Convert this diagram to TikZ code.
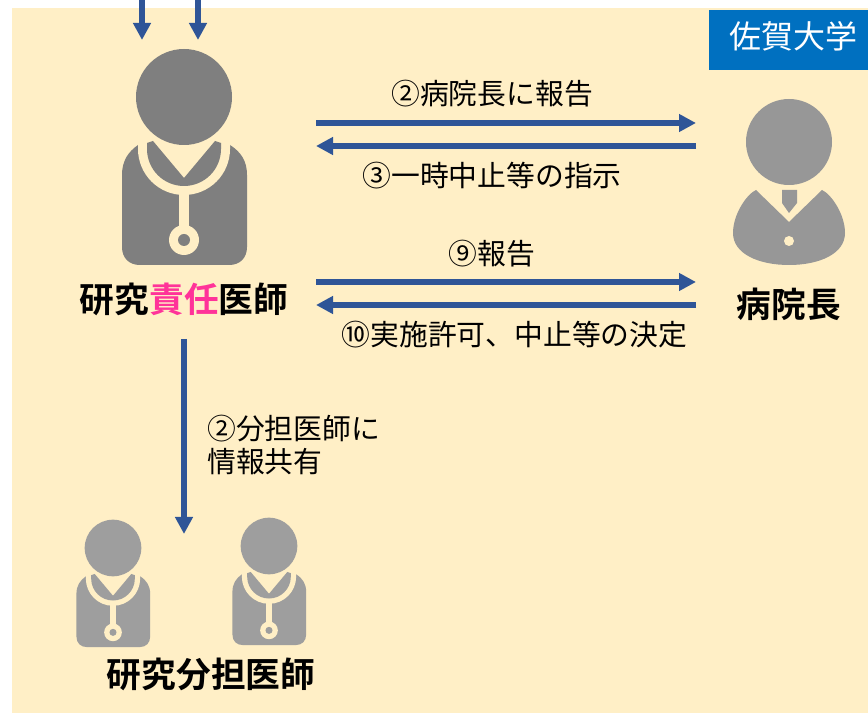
\documentclass[tikz,border=0pt]{standalone}
\usepackage{fontspec}
\usetikzlibrary{arrows.meta}
\setmainfont{Noto Sans CJK JP}[BoldFont={Noto Sans CJK JP Bold}]
\definecolor{creambg}{HTML}{FFEFC6}
\definecolor{sagablue}{HTML}{0070C0}
\definecolor{flowblue}{HTML}{2F5597}
\definecolor{icondark}{HTML}{7F7F7F}
\definecolor{iconmid}{HTML}{979797}
\definecolor{iconlight}{HTML}{9E9E9E}
\definecolor{dutypink}{HTML}{FF3399}
\tikzset{
  flow/.style={draw=flowblue, line width=5.2pt, -{Triangle[length=17pt,width=17pt]}},
  msg/.style={font=\fontsize{28.8}{33}\selectfont, inner sep=0pt},
  role/.style={font=\fontsize{34.7}{40}\selectfont\bfseries, inner sep=0pt},
  % Doctor with stethoscope, origin at the centre of the head
  pics/doctoricon/.style={code={
    \fill[#1] (-46,-48) .. controls (-56,-55) and (-62,-64) .. (-62,-78) -- (-62,-150)
      .. controls (-62,-161) and (-55,-168) .. (-44,-168) -- (45,-168)
      .. controls (56,-168) and (63,-161) .. (63,-150) -- (63,-78)
      .. controls (63,-64) and (57,-55) .. (46,-48) -- cycle;
    % Tube and ring
    \fill[creambg] (-46,-44) -- (46,-44) -- (46,-52) arc (0:-180:46) -- cycle;
    \fill[creambg] (-5,-90) rectangle (5,-135);
    \fill[creambg] (0,-143) circle (15);
    \fill[#1] (0,-143) circle (6);
    % Collar
    \fill[#1] (-37,-46) -- (-37,-52) arc (180:360:37) -- (37,-46) -- (31,-44) -- (0,-81) -- (-31,-44) -- cycle;
    % Head
    \fill[#1] (0,0) circle (48);
  }},
  % Director with a tie, origin at the centre of the head
  pics/directoricon/.style={code={
    \fill[#1] (0,0) circle (43);
    \fill[#1] (-33,-48) -- (0,-80) -- (33,-48)
      .. controls (42,-52) and (56,-72) .. (56,-91)
      .. controls (56,-112) and (30,-123) .. (0,-123)
      .. controls (-30,-123) and (-56,-112) .. (-56,-91)
      .. controls (-56,-72) and (-42,-52) .. (-33,-48) -- cycle;
    \fill[#1] (-7,-48) -- (8,-48) -- (8,-61) -- (0,-71) -- (-7,-61) -- cycle;
    \fill[creambg] (0,-99) circle (5);
  }}
}
\begin{document}
\begin{tikzpicture}[x=1pt,y=1pt]
  \useasboundingbox (0,0) rectangle (868,713);

  % Background and badge
  \fill[creambg] (12,0) rectangle (868,705);
  \node[fill=sagablue, minimum width=159pt, minimum height=60pt, inner sep=0pt] (saga) at (788.5,673) {};
  \node[text=white, inner sep=0pt, font=\fontsize{32}{36}\selectfont] (sagatext) at (793.5,677) {佐賀大学};

  % Icons
  \pic at (184,616) {doctoricon=icondark};
  \pic at (789,571) {directoricon=iconmid};
  \pic[scale=0.59] at (113,165) {doctoricon=iconlight};
  \pic[scale=0.59] at (269,167) {doctoricon=iconlight};

  % Role labels
  \node[role] (resp) at (184,414) {研究\textcolor{dutypink}{責任}医師};
  \node[role] (dir) at (789,409) {病院長};
  \node[role] (sub) at (211,39) {研究分担医師};

  % Arrow ends
  \coordinate (inA) at (142,713);
  \coordinate (inB) at (198,713);
  \coordinate (inAend) at (142,673);
  \coordinate (inBend) at (198,673);
  \coordinate (respA) at (316,590);
  \coordinate (dirA) at (696,590);
  \coordinate (respB) at (316,567);
  \coordinate (dirB) at (696,567);
  \coordinate (respC) at (316,431);
  \coordinate (dirC) at (696,431);
  \coordinate (respD) at (316,408);
  \coordinate (dirD) at (696,408);
  \coordinate (respE) at (184,374);
  \coordinate (subE) at (184,179);

  % Edges
  \draw[flow] (inA) -- (inAend);
  \draw[flow] (inB) -- (inBend);
  \draw[flow] (respA) -- (dirA);
  \draw[flow] (dirB) -- (respB);
  \draw[flow] (respC) -- (dirC);
  \draw[flow] (dirD) -- (respD);
  \draw[flow] (respE) -- (subE);

  % Edge labels
  \node[msg] (m2) at (492,619.5) {②病院長に報告};
  \node[msg] (m3) at (492,537.5) {③一時中止等の指示};
  \node[msg] (m9) at (492,459.5) {⑨報告};
  \node[msg] (m10) at (514.5,378.5) {⑩実施許可、中止等の決定};
  \node[msg, align=left, anchor=west] (mshare) at (207,268.5) {②分担医師に\\情報共有};
\end{tikzpicture}
\end{document}
